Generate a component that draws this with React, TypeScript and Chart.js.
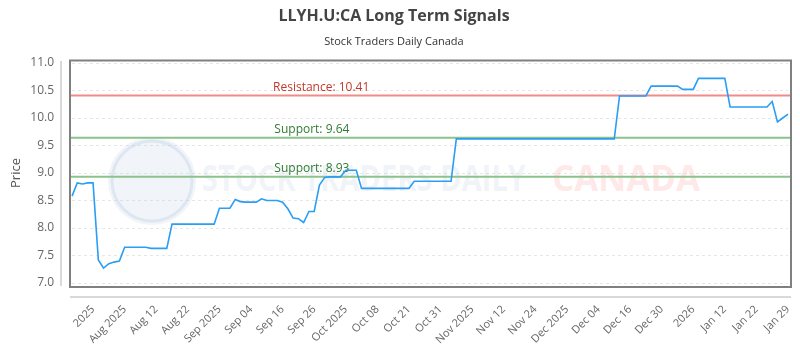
import React, { useEffect, useRef } from "react";
import { Chart, registerables } from "chart.js";

Chart.register(...registerables);

const titleText = "LLYH.U:CA Long Term Signals";
const subtitleText = "Stock Traders Daily Canada";
const yAxisTitle = "Price";

const xTickLabels = [
  "2025", "Aug 2025", "Aug 12", "Aug 22", "Sep 2025", "Sep 04", "Sep 16", "Sep 26",
  "Oct 2025", "Oct 08", "Oct 21", "Oct 31", "Nov 2025", "Nov 12", "Nov 24", "Dec 2025",
  "Dec 04", "Dec 16", "Dec 30", "2026", "Jan 12", "Jan 22", "Jan 29",
];
const tickStart = 4;
const tickStep = 6;

const prices = [
  8.58, 8.82, 8.80, 8.82, 8.82, 7.42, 7.27, 7.35, 7.38, 7.40,
  7.65, 7.65, 7.65, 7.65, 7.65, 7.63, 7.63, 7.63, 7.63, 8.07,
  8.07, 8.07, 8.07, 8.07, 8.07, 8.07, 8.07, 8.07, 8.36, 8.36,
  8.36, 8.52, 8.48, 8.47, 8.47, 8.47, 8.53, 8.50, 8.50, 8.50,
  8.47, 8.35, 8.18, 8.17, 8.10, 8.30, 8.30, 8.78, 8.92, 8.93,
  8.93, 8.93, 9.05, 9.05, 9.05, 8.72, 8.72, 8.72, 8.72, 8.72,
  8.72, 8.72, 8.72, 8.72, 8.72, 8.85, 8.85, 8.85, 8.85, 8.85,
  8.85, 8.85, 8.85, 9.62, 9.62, 9.62, 9.62, 9.62, 9.62, 9.62,
  9.62, 9.62, 9.62, 9.62, 9.62, 9.62, 9.62, 9.62, 9.62, 9.62,
  9.62, 9.62, 9.62, 9.62, 9.62, 9.62, 9.62, 9.62, 9.62, 9.62,
  9.62, 9.62, 9.62, 9.62, 10.40, 10.40, 10.40, 10.40, 10.40, 10.40,
  10.58, 10.58, 10.58, 10.58, 10.58, 10.58, 10.52, 10.52, 10.52, 10.72,
  10.72, 10.72, 10.72, 10.72, 10.72, 10.20, 10.20, 10.20, 10.20, 10.20,
  10.20, 10.20, 10.20, 10.30, 9.93, 10.00, 10.07,
];

const resistanceLevels = [10.41];
const supportLevels = [9.64, 8.93];

const yMin = 7;
const yMax = 11;
const yStep = 0.5;

const FONT = "'Open Sans', 'DejaVu Sans', sans-serif";

const overlayPlugin = {
  id: "overlay",
  beforeDatasetsDraw(chart: any) {
    const { ctx, chartArea } = chart;
    const ys = chart.scales.y;
    const { left, right, top, bottom } = chartArea;
    ctx.save();
    ctx.beginPath();
    ctx.rect(left, top, right - left, bottom - top);
    ctx.clip();
    const cx = 152, cy = 181, r = 44;
    ctx.fillStyle = "rgba(200,212,232,0.25)";
    ctx.beginPath();
    ctx.arc(cx, cy, r, 0, Math.PI * 2);
    ctx.fill();
    ctx.strokeStyle = "rgba(200,212,232,0.45)";
    ctx.lineWidth = 3;
    ctx.beginPath();
    ctx.arc(cx, cy, r - 4, 0, Math.PI * 2);
    ctx.stroke();
    ctx.textBaseline = "middle";
    ctx.textAlign = "left";
    ctx.font = `bold 34px ${FONT}`;
    const drawFit = (txt: string, x: number, w: number, color: string) => {
      const mw = ctx.measureText(txt).width;
      ctx.save();
      ctx.translate(x, cy);
      ctx.scale(w / mw, 1.05);
      ctx.fillStyle = color;
      ctx.fillText(txt, 0, 0);
      ctx.restore();
    };
    drawFit("STOCK TRADERS DAILY", 202, 324, "rgba(205,214,230,0.3)");
    drawFit("CANADA", 552, 148, "rgba(255,190,190,0.35)");
    ctx.restore();

    ctx.save();
    const drawLevel = (v: number, line: string, text: string, tc: string, cxFrac: number) => {
      const y = ys.getPixelForValue(v);
      ctx.strokeStyle = line;
      ctx.lineWidth = 2;
      ctx.beginPath();
      ctx.moveTo(left - 2, y);
      ctx.lineTo(right + 3, y);
      ctx.stroke();
      ctx.fillStyle = tc;
      ctx.font = `12px ${FONT}`;
      ctx.textAlign = "center";
      ctx.textBaseline = "bottom";
      ctx.fillText(text, left + (right - left) * cxFrac, y - 2);
    };
    resistanceLevels.forEach((v) =>
      drawLevel(v, "rgba(240,140,135,1)", `Resistance: ${v.toFixed(2)}`, "#c0392b", 0.348)
    );
    supportLevels.forEach((v) =>
      drawLevel(v, "rgba(140,195,140,1)", `Support: ${v.toFixed(2)}`, "#2e7d32", 0.335)
    );
    ctx.restore();
  },
  afterDatasetsDraw(chart: any) {
    const { ctx, chartArea } = chart;
    const { left, right, top, bottom } = chartArea;
    ctx.save();
    ctx.strokeStyle = "#808080";
    ctx.lineWidth = 2;
    ctx.strokeRect(left - 2, top - 2.5, right - left + 5, bottom - top + 6.5);
    ctx.strokeStyle = "#cccccc";
    ctx.lineWidth = 1.5;
    ctx.beginPath();
    ctx.moveTo(left - 11, top - 2);
    ctx.lineTo(left - 11, bottom + 3);
    ctx.stroke();
    ctx.beginPath();
    ctx.moveTo(left - 2, bottom + 14);
    ctx.lineTo(right + 3, bottom + 14);
    ctx.stroke();
    ctx.restore();
  },
};

export default function App() {
  const canvasRef = useRef<HTMLCanvasElement | null>(null);

  useEffect(() => {
    document.body.style.margin = "0";
    const labels = prices.map((_, i) => String(i));
    const chart = new Chart(canvasRef.current as HTMLCanvasElement, {
      type: "line",
      data: {
        labels,
        datasets: [
          {
            label: "Price",
            data: prices,
            borderColor: "#2a9df4",
            borderWidth: 1.6,
            pointRadius: 0,
            tension: 0,
            fill: false,
          },
        ],
      },
      options: {
        animation: false,
        responsive: false,
        layout: { padding: { left: 0, right: 12, top: 2, bottom: 0 } },
        plugins: {
          legend: { display: false },
          tooltip: { enabled: false },
          title: {
            display: true,
            text: titleText,
            color: "#444444",
            font: { family: FONT, size: 16, weight: "bold" },
            padding: { top: 5, bottom: 4 },
          },
          subtitle: {
            display: true,
            text: subtitleText,
            color: "#333333",
            font: { family: FONT, size: 11 },
            padding: { top: 5, bottom: 14.6 },
          },
        },
        scales: {
          x: {
            type: "category",
            grid: { display: false, drawTicks: false },
            border: { display: false },
            ticks: {
              autoSkip: false,
              minRotation: 45,
              maxRotation: 45,
              padding: 20,
              color: "#666666",
              font: { family: FONT, size: 11 },
              callback: (_v: any, i: number) => {
                const k = i - tickStart;
                if (k >= 0 && k % tickStep === 0 && k / tickStep < xTickLabels.length) {
                  return xTickLabels[k / tickStep];
                }
                return null;
              },
            },
            afterFit: (s: any) => {
              s.height = 67;
              s.paddingRight = 0;
              s.paddingLeft = 0;
            },
          },
          y: {
            min: yMin,
            max: yMax,
            grid: {
              color: "#e6e6e6",
              lineWidth: 1,
              drawTicks: false,
            },
            border: { display: false, dash: [3, 3] },
            ticks: {
              stepSize: yStep,
              padding: 18,
              color: "#666666",
              font: { family: FONT, size: 12 },
              callback: (v: any) => Number(v).toFixed(1),
            },
            title: {
              display: true,
              text: yAxisTitle,
              color: "#555555",
              font: { family: FONT, size: 13 },
              padding: { top: 8, bottom: 0 },
            },
            afterFit: (s: any) => {
              s.width = 72;
            },
          },
        },
      },
      plugins: [overlayPlugin],
    });
    return () => chart.destroy();
  }, []);

  return (
    <div style={{ width: 800, height: 350 }}>
      <canvas ref={canvasRef} width={800} height={350} style={{ display: "block" }} />
    </div>
  );
}
